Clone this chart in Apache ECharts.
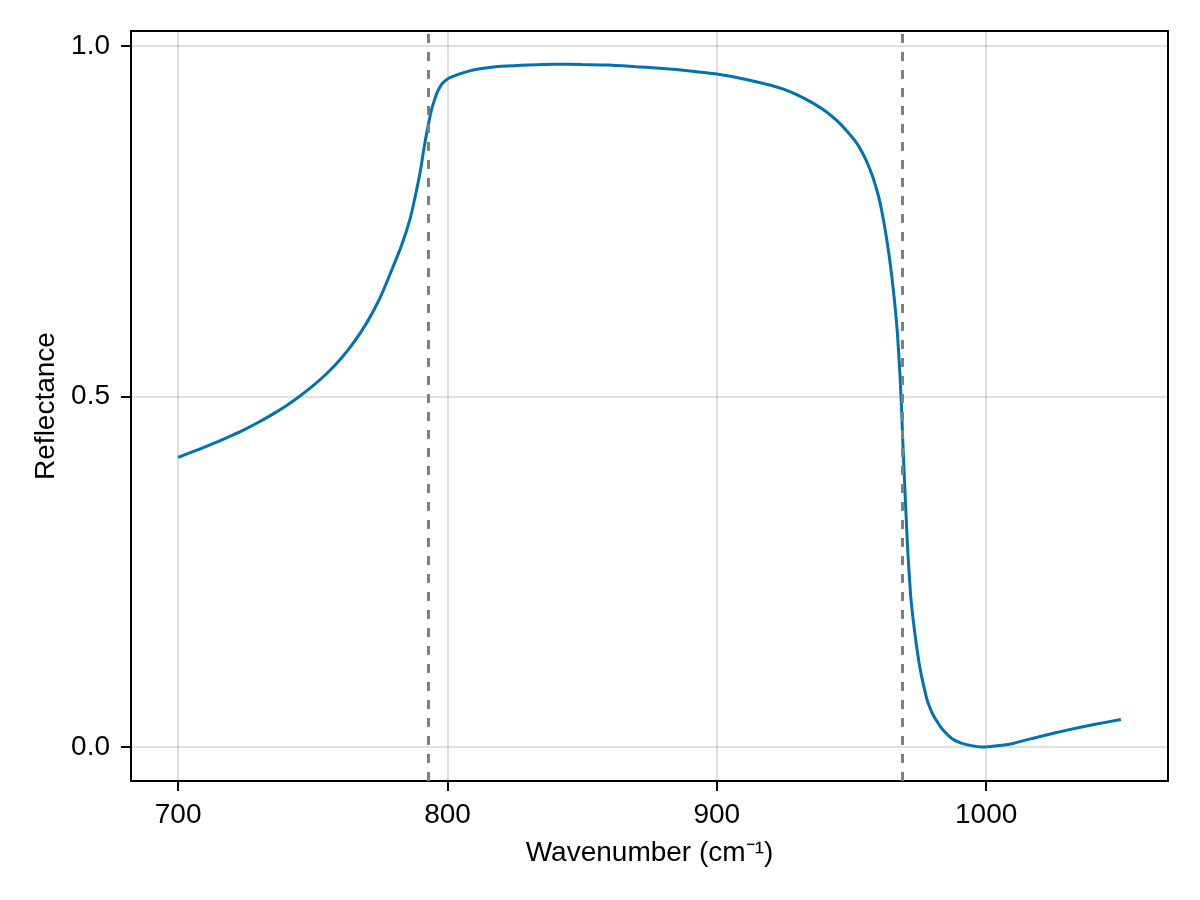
<!DOCTYPE html>
<html>
<head>
<meta charset="utf-8">
<title>Reflectance</title>
<script src="https://cdn.jsdelivr.net/npm/echarts@6/dist/echarts.min.js"></script>
<style>
    html, body { margin: 0; padding: 0; background: #fff; }
    #main { width: 1200px; height: 900px; }
</style>
</head>
<body>
<div id="main"></div>
<script>
// 波数 (cm⁻¹)
const wavenumber = [700, 705, 710, 715, 720, 725, 730, 735, 740, 745, 750, 755, 760, 765, 770, 775, 780, 783, 786, 788,
    790, 791, 792, 793, 794, 795, 796, 797, 798, 800, 803, 806, 810, 815, 820, 830, 840, 850, 860, 870,
    880, 890, 900, 910, 920, 925, 930, 935, 940, 945, 950, 952, 954, 956, 958, 960, 961, 962, 963, 964,
    965, 966, 967, 968, 968.5, 969, 969.5, 970, 970.5, 971, 972, 973, 974, 975, 976, 977, 978, 979, 980, 981,
    982, 983, 984, 986, 988, 991, 995, 998, 1000, 1005, 1010, 1020, 1030, 1040, 1050];

// 反射率
const reflectance = [0.413, 0.4205, 0.428, 0.436, 0.4445, 0.4535, 0.4635, 0.4745, 0.4865, 0.500, 0.515, 0.532, 0.552, 0.576, 0.605, 0.641, 0.687, 0.716, 0.752, 0.785,
    0.823, 0.848, 0.870, 0.890, 0.908, 0.921, 0.932, 0.940, 0.946, 0.953, 0.958, 0.962, 0.966, 0.969, 0.971, 0.973, 0.974, 0.9735, 0.973, 0.9705,
    0.968, 0.9645, 0.960, 0.953, 0.944, 0.938, 0.930, 0.920, 0.908, 0.892, 0.871, 0.861, 0.848, 0.832, 0.812, 0.786, 0.769, 0.749, 0.726, 0.700,
    0.670, 0.635, 0.592, 0.530, 0.490, 0.440, 0.395, 0.352, 0.310, 0.272, 0.214, 0.178, 0.148, 0.122, 0.101, 0.084, 0.068, 0.057, 0.048, 0.041,
    0.035, 0.029, 0.024, 0.016, 0.010, 0.005, 0.0015, 0.0, 0.0, 0.002, 0.005, 0.015, 0.024, 0.032, 0.039];

// 竖直虚线 (TO / LO)
const vlines = [793, 969];

// 坐标轴刻度
const xTicks = [700, 800, 900, 1000];
const yTicks = [0, 0.5, 1.0];

let myChart;

document.addEventListener('DOMContentLoaded', function () {
    myChart = echarts.init(document.getElementById('main'), null, { renderer: 'canvas' });

    const font = "'Liberation Sans', Arial, sans-serif";
    const gridColor = 'rgba(0,0,0,0.12)';

    const option = {
        animation: false,
        backgroundColor: '#fff',
        grid: {
            left: 131,
            right: 32,
            top: 31,
            bottom: 119,
            show: true,
            borderColor: '#000',
            borderWidth: 2
        },
        xAxis: {
            type: 'value',
            min: 682.5,
            max: 1067.5,
            name: 'Wavenumber (cm⁻¹)',
            nameLocation: 'middle',
            nameGap: 58,
            nameTextStyle: { fontFamily: font, fontSize: 28, color: '#000' },
            axisLine: { show: true, onZero: false, lineStyle: { color: '#000', width: 2 } },
            axisTick: { show: true, inside: false, length: 10, customValues: xTicks, lineStyle: { color: '#000', width: 2 } },
            axisLabel: {
                customValues: xTicks,
                margin: 20,
                fontFamily: font,
                fontSize: 28,
                color: '#000',
                formatter: v => String(v)
            },
            splitLine: { show: true, lineStyle: { color: gridColor, width: 2 } }
        },
        yAxis: {
            type: 'value',
            min: -0.0486,
            max: 1.0214,
            name: 'Reflectance',
            nameLocation: 'middle',
            nameGap: 70,
            nameRotate: 90,
            nameTextStyle: { fontFamily: font, fontSize: 28, color: '#000' },
            axisLine: { show: true, onZero: false, lineStyle: { color: '#000', width: 2 } },
            axisTick: { show: true, inside: false, length: 10, customValues: yTicks, lineStyle: { color: '#000', width: 2 } },
            axisLabel: {
                customValues: yTicks,
                margin: 21,
                fontFamily: font,
                fontSize: 28,
                color: '#000',
                formatter: v => v.toFixed(1)
            },
            splitLine: { show: true, lineStyle: { color: gridColor, width: 2 } }
        },
        series: [
            {
                name: 'Reflectance',
                type: 'line',
                data: wavenumber.map((w, i) => [w, reflectance[i]]),
                showSymbol: false,
                smooth: 0.2,
                lineStyle: { color: '#0072b2', width: 3 },
                z: 3,
                markLine: {
                    silent: true,
                    symbol: 'none',
                    label: { show: false },
                    lineStyle: { color: '#7f7f7f', width: 3, type: [9, 9] },
                    data: vlines.map(v => ({ xAxis: v }))
                }
            }
        ]
    };

    myChart.setOption(option);
});
</script>
</body>
</html>
